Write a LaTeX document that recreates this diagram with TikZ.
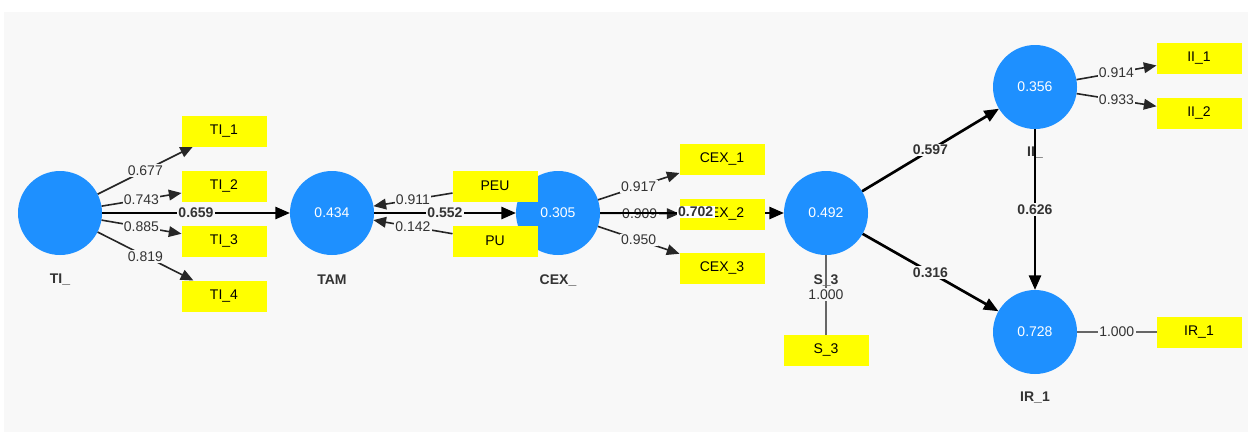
\documentclass[tikz,border=0pt]{standalone}
\usepackage{fontspec}
\setmainfont{Liberation Sans}
\usetikzlibrary{arrows.meta,backgrounds}

\definecolor{panel}{HTML}{F8F8F8}
\definecolor{lvblue}{HTML}{1E90FF}
\definecolor{ink}{HTML}{333333}
\definecolor{mvyellow}{HTML}{FFFF00}

\tikzset{
  txt/.style={font=\fontsize{10.5}{12}\selectfont},
  lv/.style={circle, fill=lvblue, draw=none, minimum size=63pt, inner sep=0pt,
    outer sep=0pt, text=white, txt},
  mv/.style={rectangle, fill=mvyellow, draw=none, minimum width=63.75pt,
    minimum height=23.25pt, inner sep=0pt, outer sep=0pt, text=black, txt},
  lvname/.style={font=\bfseries\fontsize{10.5}{12}\selectfont, text=ink},
  loading/.style={draw=black!85, line width=1.2pt, -{Triangle[length=9.5pt,width=8pt]}},
  coef/.style={draw=black, line width=2pt, -{Triangle[length=11pt,width=9pt]}},
  single/.style={draw=gray!80!black, line width=1pt},
  wt/.style={fill=panel, inner sep=1pt, text=ink, txt},
  wtb/.style={fill=panel, inner sep=1pt, text=ink,
    font=\bfseries\fontsize{10.5}{12}\selectfont},
}

\begin{document}
\begin{tikzpicture}[x=0.75pt,y=-0.75pt]
\useasboundingbox (0,0) rectangle (1248,432);

% latent variables
\node[lv] (TI)  at (60,213)   {};
\node[lv] (TAM) at (332,213)  {0.434};
\node[lv] (CEX) at (558,213)  {0.305};
\node[lv] (S3c) at (826,213)  {0.492};
\node[lv] (II)  at (1035,87)  {0.356};
\node[lv] (IR)  at (1035,332) {0.728};

% indicators
\node[mv] (TI1)  at (224,131)  {TI\_1};
\node[mv] (TI2)  at (224,186)  {TI\_2};
\node[mv] (TI3)  at (224,241)  {TI\_3};
\node[mv] (TI4)  at (224,296)  {TI\_4};
\node[mv] (PEU)  at (495,186)  {PEU};
\node[mv] (PU)   at (495,241)  {PU};
\node[mv] (CEX1) at (722,159)  {CEX\_1};
\node[mv] (CEX2) at (722,214)  {CEX\_2};
\node[mv] (CEX3) at (722,268)  {CEX\_3};
\node[mv] (S3m)  at (826,350)  {S\_3};
\node[mv] (II1)  at (1199,58)  {II\_1};
\node[mv] (II2)  at (1199,113) {II\_2};
\node[mv] (IR1)  at (1199,332) {IR\_1};

% coefficient label drawn over the CEX_2 box
\path (CEX) -- node[wtb, fill=white, pos=0.52, yshift=0.75pt] {0.702} (S3c);

\begin{scope}[on background layer]
  \fill[panel] (4,12) rectangle (1248,432);

  % construct names
  \node[lvname] (nTI)  at (60,280)   {TI\_};
  \node[lvname] (nTAM) at (332,280)  {TAM};
  \node[lvname] (nCEX) at (558,280)  {CEX\_};
  \node[lvname] (nS3)  at (826,280)  {S\_3};
  \node[lvname] (nII)  at (1035,153) {II\_};
  \node[lvname] (nIR)  at (1035,398) {IR\_1};

  % outer loadings
  \draw[loading] (TI) -- node[wt] {0.677} (TI1);
  \draw[loading] (TI) -- node[wt] {0.743} (TI2);
  \draw[loading] (TI) -- node[wt] {0.885} (TI3);
  \draw[loading] (TI) -- node[wt] {0.819} (TI4);
  \draw[loading] (PEU) -- node[wt] {0.911} (TAM);
  \draw[loading] (PU) -- node[wt] {0.142} (TAM);
  \draw[loading] (CEX) -- node[wt] {0.917} (CEX1);
  \draw[loading] (CEX) -- node[wt] {0.909} (CEX2);
  \draw[loading] (CEX) -- node[wt] {0.950} (CEX3);
  \draw[loading] (II) -- node[wt] {0.914} (II1);
  \draw[loading] (II) -- node[wt] {0.933} (II2);
  \draw[single] (S3c) -- node[wt] {1.000} (S3m);
  \draw[single] (IR) -- node[wt] {1.000} (IR1);

  % path coefficients
  \draw[coef] (TI) -- node[wtb] {0.659} (TAM);
  \draw[coef] (TAM) -- node[wtb] {0.552} (CEX);
  \draw[coef] (CEX) -- (S3c);
  \draw[coef] (S3c) -- node[wtb] {0.597} (II);
  \draw[coef] (S3c) -- node[wtb] {0.316} (IR);
  \draw[coef] (II) -- node[wtb] {0.626} (IR);
\end{scope}
\end{tikzpicture}
\end{document}
